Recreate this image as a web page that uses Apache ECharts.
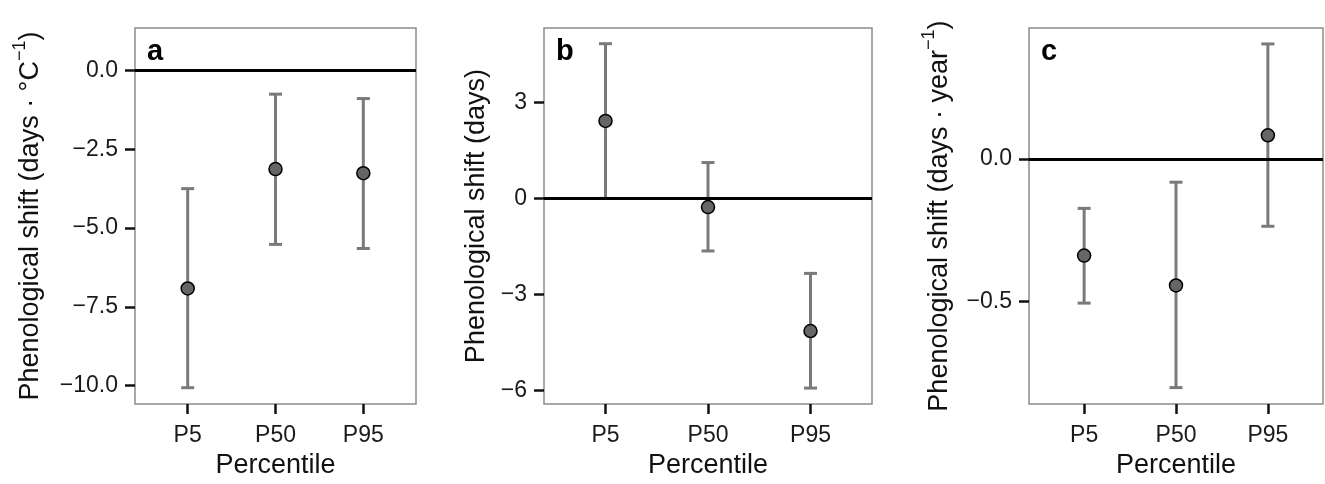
<!DOCTYPE html>
<html>
<head>
    <meta charset="utf-8">
    <title>Phenological shift</title>
    <script src="https://cdn.jsdelivr.net/npm/echarts@6/dist/echarts.min.js"></script>
    <style>
        html, body { margin: 0; padding: 0; background: #fff; }
    </style>
</head>
<body>
    <div id="main" style="width: 1325px;height:484px;"></div>
    <script type="text/javascript">
        // categories (x positions 1..3)
        var percentiles = ['P5', 'P50', 'P95'];
        var panelLetters = ['a', 'b', 'c'];
        // {s|..} parts are drawn as superscripts
        var yTitles = [
            'Phenological shift (days · °C{s|−1})',
            'Phenological shift (days)',
            'Phenological shift (days · year{s|−1})'
        ];

        // panel a : days per degree C
        var estA = [-6.92, -3.13, -3.26];
        var lowA = [-10.07, -5.52, -5.65];
        var highA = [-3.75, -0.75, -0.89];
        var ticksA = [0, -2.5, -5, -7.5, -10];

        // panel b : days
        var estB = [2.42, -0.27, -4.14];
        var lowB = [0.0, -1.64, -5.92];
        var highB = [4.83, 1.12, -2.34];
        var ticksB = [3, 0, -3, -6];

        // panel c : days per year
        var estC = [-0.339, -0.444, 0.084];
        var lowC = [-0.506, -0.803, -0.236];
        var highC = [-0.173, -0.081, 0.405];
        var ticksC = [0, -0.5];

        var FONT = 'Liberation Sans, Arial, Helvetica, sans-serif';
        var myChart = echarts.init(document.getElementById('main'));

        var panels = [
            {est: estA, low: lowA, high: highA, ticks: ticksA, min: -10.59, max: 1.35, dec: 1,
             left: 135, width: 281, nameGap: 84},
            {est: estB, low: lowB, high: highB, ticks: ticksB, min: -6.42, max: 5.32, dec: 0,
             left: 544, width: 328, nameGap: 40},
            {est: estC, low: lowC, high: highC, ticks: ticksC, min: -0.861, max: 0.461, dec: 1,
             left: 1029, width: 294, nameGap: 69}
        ];

        function fmt(v, dec) {
            return v.toFixed(dec).replace('-', '\u2212');
        }

        var grids = [], xAxes = [], yAxes = [], series = [], titles = [];

        panels.forEach(function (p, i) {
            grids.push({
                left: p.left, top: 28, width: p.width, height: 382,
                show: true, borderColor: '#8c8c8c', borderWidth: 1.5, backgroundColor: 'transparent'
            });
            xAxes.push({
                type: 'value', gridIndex: i, min: 0.4, max: 3.6,
                name: 'Percentile', nameLocation: 'middle', nameGap: 46,
                nameTextStyle: {fontFamily: FONT, fontSize: 27, color: '#111'},
                axisLine: {show: false, onZero: false},
                splitLine: {show: false},
                axisTick: {show: true, length: 10, customValues: [1, 2, 3],
                    lineStyle: {color: '#111', width: 2.5}},
                axisLabel: {customValues: [1, 2, 3], margin: 20,
                    fontFamily: FONT, fontSize: 23, color: '#1a1a1a',
                    formatter: function (v) { return percentiles[Math.round(v) - 1]; }}
            });
            yAxes.push({
                type: 'value', gridIndex: i, min: p.min, max: p.max,
                name: yTitles[i], nameLocation: 'middle', nameGap: p.nameGap,
                nameTextStyle: {fontFamily: FONT, fontSize: 27, color: '#111', lineHeight: 40,
                    rich: {s: {fontFamily: FONT, fontSize: 18, lineHeight: 18, verticalAlign: 'top', color: '#111'}}},
                axisLine: {show: false, onZero: false},
                splitLine: {show: false},
                axisTick: {show: true, length: 10, customValues: p.ticks,
                    lineStyle: {color: '#111', width: 2.5}},
                axisLabel: {customValues: p.ticks, margin: 17,
                    fontFamily: FONT, fontSize: 23, color: '#1a1a1a',
                    formatter: function (v) { return fmt(v, p.dec); }}
            });

            // zero reference line
            series.push({
                type: 'line', xAxisIndex: i, yAxisIndex: i, data: [], z: 1,
                markLine: {
                    silent: true, symbol: ['none', 'none'], label: {show: false},
                    lineStyle: {color: '#000', width: 2.8, type: 'solid'},
                    data: [{yAxis: 0}]
                }
            });

            // error bars
            var barData = percentiles.map(function (c, k) { return [k + 1, p.low[k], p.high[k]]; });
            series.push({
                type: 'custom', xAxisIndex: i, yAxisIndex: i, z: 2,
                encode: {x: 0, y: [1, 2]},
                data: barData,
                renderItem: function (params, api) {
                    var x = api.value(0);
                    var lo = api.coord([x, api.value(1)]);
                    var hi = api.coord([x, api.value(2)]);
                    var hw = 6.5;
                    var st = {stroke: '#7a7a7a', lineWidth: 3, lineCap: 'butt'};
                    return {
                        type: 'group',
                        children: [
                            {type: 'line', shape: {x1: lo[0], y1: hi[1], x2: lo[0], y2: lo[1]}, style: st},
                            {type: 'line', shape: {x1: lo[0] - hw, y1: hi[1], x2: lo[0] + hw, y2: hi[1]}, style: st},
                            {type: 'line', shape: {x1: lo[0] - hw, y1: lo[1], x2: lo[0] + hw, y2: lo[1]}, style: st}
                        ]
                    };
                }
            });

            // point estimates
            series.push({
                type: 'scatter', xAxisIndex: i, yAxisIndex: i, z: 3,
                symbol: 'circle', symbolSize: 13,
                itemStyle: {color: '#666666', borderColor: '#000', borderWidth: 1.5, opacity: 1},
                data: percentiles.map(function (c, k) { return [k + 1, p.est[k]]; })
            });

            titles.push({
                text: panelLetters[i], left: p.left + 12, top: 37, padding: 0,
                textStyle: {fontFamily: FONT, fontSize: 29, fontWeight: 'bold', color: '#000'}
            });
        });

        myChart.setOption({
            animation: false,
            title: titles,
            grid: grids,
            xAxis: xAxes,
            yAxis: yAxes,
            series: series
        });
    </script>
</body>
</html>
